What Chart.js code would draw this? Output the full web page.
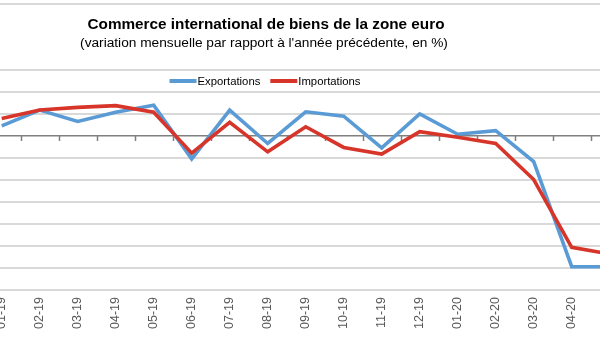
<!DOCTYPE html>
<html lang="fr">
<head>
<meta charset="utf-8">
<title>Commerce international de biens de la zone euro</title>
<script src="https://cdn.jsdelivr.net/npm/chart.js@4/dist/chart.umd.min.js"></script>
<style>
  html, body { margin: 0; padding: 0; background: #ffffff; overflow: hidden; }
  body { width: 600px; height: 341px; position: relative; }
  #wrap { position: absolute; left: -60px; top: 0; width: 720px; height: 341px; }
</style>
</head>
<body>
<div id="wrap"><canvas id="chart" width="720" height="341"></canvas></div>
<script>
// Months shown on the horizontal axis
const months = ['01-19', '02-19', '03-19', '04-19', '05-19', '06-19', '07-19', '08-19',
                '09-19', '10-19', '11-19', '12-19', '01-20', '02-20', '03-20', '04-20', '05-20'];

// Year-on-year change, in %
const exportations = [2.3, 5.9, 3.3, 5.4, 7.0, -5.2, 5.9, -1.7, 5.5, 4.5, -2.7, 5.0, 0.4, 1.2, -5.8, -29.7, -29.7];
const importations = [4.0, 5.9, 6.5, 6.9, 5.4, -3.9, 3.1, -3.6, 2.1, -2.6, -4.1, 1.0, -0.3, -1.7, -9.9, -25.3, -26.8];

// Vertical axis range and step (%)
const yMin = -35;
const yMax = 30;
const yStep = 5;

const titleText = 'Commerce international de biens de la zone euro';
const subtitleText = "(variation mensuelle par rapport à l'année précédente, en %)";

const FONT = '"Liberation Sans", Arial, Helvetica, sans-serif';

// Zero line tick marks at the boundaries between months
const zeroTicks = {
  id: 'zeroTicks',
  beforeDatasetsDraw(chart) {
    const x = chart.scales.x, y = chart.scales.y;
    const y0 = Math.round(y.getPixelForValue(0));
    const ctx = chart.ctx;
    ctx.save();
    ctx.strokeStyle = '#7f7f7f';
    ctx.lineWidth = 1.5;
    ctx.beginPath();
    for (let i = 0; i <= months.length; i++) {
      const px = Math.round(x.getPixelForValue(i - 0.5)) + 0.5;
      ctx.moveTo(px, y0);
      ctx.lineTo(px, y0 + 5);
    }
    ctx.stroke();
    ctx.restore();
  }
};

// Title, subtitle and the line legend inside the plot frame
const header = {
  id: 'header',
  afterDraw(chart) {
    const ctx = chart.ctx;
    const cx = 326;
    ctx.save();
    ctx.fillStyle = '#000000';
    ctx.textAlign = 'center';
    ctx.textBaseline = 'alphabetic';
    ctx.font = 'bold 15.3px ' + FONT;
    ctx.fillText(titleText, cx, 28.5);
    ctx.font = '13.7px ' + FONT;
    ctx.fillText(subtitleText, cx - 2, 47);

    // legend built from the datasets
    ctx.font = '11.3px ' + FONT;
    ctx.textAlign = 'left';
    const sw = 27, gapText = 1, gapItem = 10;
    const items = chart.data.datasets.map(d => ({
      label: d.label, color: d.borderColor, w: ctx.measureText(d.label).width
    }));
    let total = 0;
    items.forEach((it, i) => { total += sw + gapText + it.w + (i < items.length - 1 ? gapItem : 0); });
    let lx = 325 - total / 2;
    items.forEach(it => {
      ctx.strokeStyle = it.color;
      ctx.lineWidth = 4;
      ctx.beginPath();
      ctx.moveTo(lx, 81);
      ctx.lineTo(lx + sw, 81);
      ctx.stroke();
      ctx.fillStyle = '#000000';
      ctx.fillText(it.label, lx + sw + gapText, 85);
      lx += sw + gapText + it.w + gapItem;
    });
    ctx.restore();
  }
};

new Chart(document.getElementById('chart'), {
  type: 'line',
  data: {
    labels: months,
    datasets: [
      {
        label: 'Exportations',
        data: exportations,
        borderColor: '#5b9bd5',
        backgroundColor: '#5b9bd5',
        borderWidth: 3.6,
        pointRadius: 0,
        tension: 0,
        order: 1
      },
      {
        label: 'Importations',
        data: importations,
        borderColor: '#d8352a',
        backgroundColor: '#d8352a',
        borderWidth: 3.6,
        pointRadius: 0,
        tension: 0,
        order: 0
      }
    ]
  },
  options: {
    responsive: false,
    animation: false,
    devicePixelRatio: 1,
    layout: { autoPadding: false, padding: { top: 4, right: 31.3, bottom: 0, left: 0 } },
    plugins: {
      legend: { display: false },
      title: { display: false },
      tooltip: { enabled: false }
    },
    scales: {
      x: {
        offset: true,
        grid: { display: false, drawTicks: false },
        border: { display: false },
        ticks: {
          autoSkip: false,
          minRotation: 90,
          maxRotation: 90,
          padding: 7,
          color: '#595959',
          font: { family: FONT, size: 12.5 }
        },
        afterFit(scale) { scale.height = 51; }
      },
      y: {
        min: yMin,
        max: yMax,
        ticks: {
          display: false,
          stepSize: yStep
        },
        border: { display: false },
        grid: {
          drawTicks: false,
          color(ctx) {
            const v = ctx.tick.value;
            if (v === 0) return '#7f7f7f';
            if (v === 20 || v === 25) return 'rgba(0,0,0,0)';
            return '#d9d9d9';
          },
          lineWidth(ctx) { return ctx.tick.value === 0 ? 1.5 : 2; }
        },
        afterFit(scale) { scale.width = 42.7; }
      }
    }
  },
  plugins: [zeroTicks, header]
});
</script>
</body>
</html>
